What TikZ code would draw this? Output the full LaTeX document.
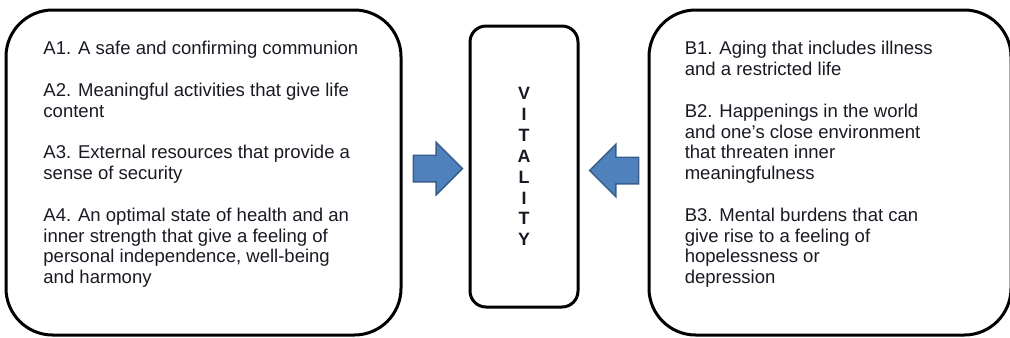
\documentclass[tikz,border=0pt]{standalone}
\usepackage{fontspec}
\setmainfont{Liberation Sans}
\usetikzlibrary{positioning, shapes.arrows}
\definecolor{arrowblue}{RGB}{79, 129, 189}
\definecolor{arrowedge}{RGB}{56, 93, 138}
\definecolor{inktext}{RGB}{25, 25, 35}

\begin{document}
\begin{tikzpicture}[
    x=0.75pt, y=-0.75pt,
    bigbox/.style={
        draw=black, line width=2.25pt, rounded corners=35pt,
        minimum height=243.75pt
    },
    vitalbox/.style={
        draw=black, line width=2.25pt, rounded corners=12pt,
        minimum width=81pt, minimum height=210.75pt, text=inktext,
        align=center, font=\bfseries\fontsize{13.4pt}{15.7pt}\selectfont
    },
    listtext/.style={
        inner sep=0pt, align=left, text=inktext,
        font=\fontsize{13.9pt}{15.6pt}\selectfont
    },
    blockarrow/.style={
        single arrow, draw=arrowedge, fill=arrowblue, line width=1.1pt,
        inner xsep=0pt, inner ysep=9.4pt, single arrow head extend=9.75pt,
        minimum height=36.75pt
    }
]
\useasboundingbox (0,0) rectangle (1010,337);

% CENTRE - vitality
\node[vitalbox] (vital) at (524,166.5) {V\\I\\T\\A\\L\\I\\T\\Y};

% LEFT and RIGHT boxes
\node[bigbox, minimum width=296.25pt, left=49.5pt of vital, yshift=-4.5pt] (boxA) {};
\node[bigbox, minimum width=271.5pt, right=51pt of vital, yshift=-4.5pt] (boxB) {};

% Texts inside the boxes
\node[listtext, below right=24.5pt and 29pt of boxA.north west] (listA) {
    A1. A safe and confirming communion\\[15.6pt]
    A2. Meaningful activities that give life\\
    content\\[15.6pt]
    A3. External resources that provide a\\
    sense of security\\[15.6pt]
    A4. An optimal state of health and an\\
    inner strength that give a feeling of\\
    personal independence, well-being\\
    and harmony
};
\node[listtext, below right=24.5pt and 27.75pt of boxB.north west] (listB) {
    B1. Aging that includes illness\\
    and a restricted life\\[15.6pt]
    B2. Happenings in the world\\
    and one's close environment\\
    that threaten inner\\
    meaningfulness\\[15.6pt]
    B3. Mental burdens that can\\
    give rise to a feeling of\\
    hopelessness or\\
    depression
};

% Block arrows towards the centre
\node[blockarrow, left=3.75pt of vital, yshift=-1.5pt] (arrowA) {};
\node[blockarrow, shape border rotate=180, right=6.75pt of vital, yshift=-3pt] (arrowB) {};

\end{tikzpicture}
\end{document}
